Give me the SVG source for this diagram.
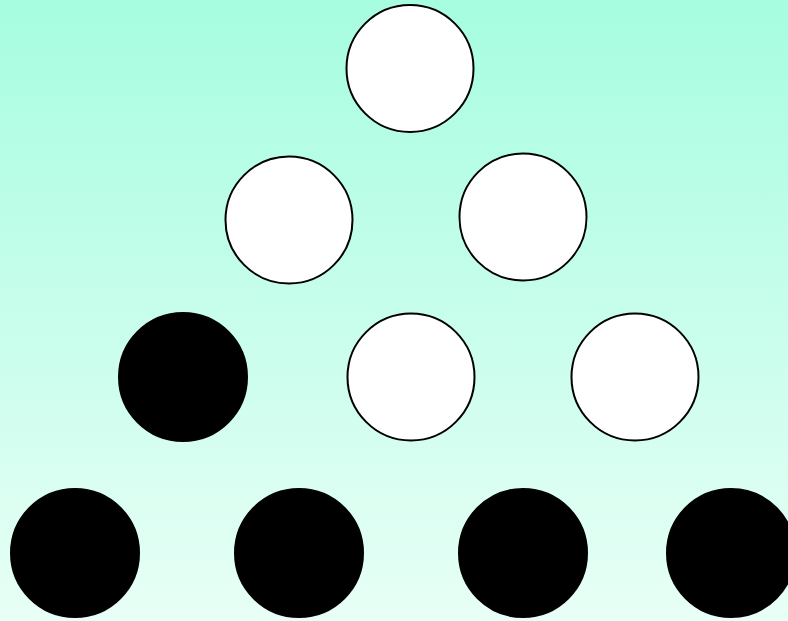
<svg xmlns="http://www.w3.org/2000/svg" width="788" height="621" viewBox="0 0 788 621">
<defs>
<linearGradient id="bg" x1="0" y1="0" x2="0" y2="1">
<stop offset="0" stop-color="#a6fde0"/>
<stop offset="1" stop-color="#e8fff6"/>
</linearGradient>
<style>
.w{fill:#ffffff;stroke:#000000;stroke-width:2}
.b{fill:#000000;stroke:#000000;stroke-width:2}
</style>
</defs>
<rect x="0" y="0" width="788" height="621" fill="url(#bg)"/>
<g id="n1"><circle class="w" cx="410" cy="68.5" r="63.5"/></g>
<g id="n2"><circle class="w" cx="289" cy="220" r="63.5"/></g>
<g id="n3"><circle class="w" cx="523" cy="217" r="63.5"/></g>
<g id="n4"><circle class="b" cx="183" cy="377" r="64"/></g>
<g id="n5"><circle class="w" cx="411" cy="377" r="63.5"/></g>
<g id="n6"><circle class="w" cx="635" cy="377" r="63.5"/></g>
<g id="n7"><circle class="b" cx="75" cy="553" r="64"/></g>
<g id="n8"><circle class="b" cx="299" cy="553" r="64"/></g>
<g id="n9"><circle class="b" cx="523" cy="553" r="64"/></g>
<g id="n10"><circle class="b" cx="731" cy="553" r="64"/></g>
<g id="connectors"></g>
</svg>
